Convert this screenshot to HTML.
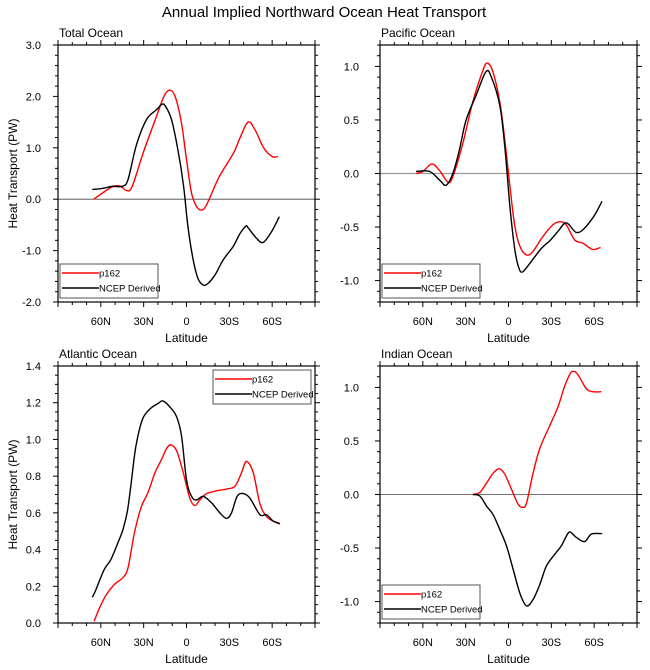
<!DOCTYPE html>
<html><head><meta charset="utf-8"><style>
body{margin:0;background:#fff}
svg{display:block;font-family:"Liberation Sans",Arial,sans-serif}
</style></head><body>
<svg id="c" width="650" height="670" viewBox="0 0 650 670" xmlns="http://www.w3.org/2000/svg">
<text x="324" y="17" font-size="15" text-anchor="middle">Annual Implied Northward Ocean Heat Transport</text>
</svg>
<script>
// latitude: positive = N, negative = S
const totRedLat=[65,54,50,46,42,38,30,21,16,12,8,3.5,0,-3.5,-7,-10.5,-14,-23,-33,-37,-43,-48,-54,-60,-64];
const totRedVal=[0,0.21,0.26,0.25,0.17,0.25,0.93,1.61,1.99,2.12,2.0,1.48,0.77,0.12,-0.14,-0.21,-0.11,0.44,0.9,1.16,1.5,1.35,1.0,0.83,0.83];
const totBlkLat=[66,59,52,45,41,35,28,21,17.5,15,10.5,6,2,-1,-4.7,-8,-11.7,-15,-20,-25.7,-32.7,-37,-41.4,-43,-49,-53.7,-59.6,-65];
const totBlkVal=[0.19,0.21,0.25,0.25,0.38,1.06,1.55,1.74,1.84,1.82,1.55,0.96,0.25,-0.53,-1.18,-1.54,-1.67,-1.64,-1.47,-1.18,-0.92,-0.69,-0.53,-0.55,-0.76,-0.84,-0.63,-0.34];
const pacRedLat=[64.7,60,53.7,48.4,42.5,39,32,25,17.7,14.6,10.7,6,2.6,-1,-4.4,-8,-12.5,-17,-24,-31,-36,-40.5,-46.3,-52,-59,-64.5];
const pacRedVal=[0,0.02,0.09,0.03,-0.08,-0.03,0.28,0.67,0.97,1.03,0.94,0.66,0.31,-0.12,-0.49,-0.68,-0.76,-0.73,-0.59,-0.48,-0.45,-0.48,-0.62,-0.65,-0.71,-0.69];
const pacBlkLat=[64.7,55.3,48.4,43.7,39,34.4,29.7,22.7,15.8,12,6,2.6,-1,-4.4,-7.2,-9.8,-14.9,-23,-28.8,-34.7,-40.5,-47.4,-53.3,-60.2,-65.5];
const pacBlkVal=[0.02,0.02,-0.06,-0.11,0.0,0.22,0.5,0.73,0.95,0.9,0.63,0.25,-0.31,-0.71,-0.88,-0.92,-0.84,-0.7,-0.63,-0.54,-0.46,-0.55,-0.51,-0.39,-0.26];
const atlRedLat=[64.7,61,56.5,50.6,44.8,41,36.5,31.8,27,22,17.5,14,11,7,2.3,-2.3,-5.8,-9.3,-14,-21,-28,-34,-38.6,-42,-46.7,-51.4,-56,-60.7,-65];
const atlRedVal=[0.01,0.08,0.15,0.21,0.245,0.3,0.49,0.63,0.71,0.82,0.89,0.95,0.97,0.94,0.82,0.68,0.64,0.67,0.705,0.72,0.73,0.745,0.82,0.88,0.82,0.65,0.58,0.555,0.545];
const atlBlkLat=[66,63.5,57.7,53,48.4,44.5,41.4,39,35.5,30.8,25,20,16.6,12,7,3.5,0,-3.5,-7,-11.7,-17.5,-23.4,-28,-31.5,-35.5,-39.7,-44.4,-51.4,-56,-60.7,-65.4];
const atlBlkVal=[0.14,0.18,0.29,0.345,0.43,0.51,0.61,0.745,0.96,1.11,1.17,1.195,1.21,1.18,1.125,1.02,0.78,0.69,0.67,0.69,0.655,0.6,0.57,0.6,0.69,0.705,0.68,0.59,0.59,0.555,0.54];
const indRedLat=[25,20,15.3,10.7,6.5,2.6,-2,-6.7,-9.8,-12.6,-17.2,-21.9,-28.8,-34.7,-39.3,-43.3,-45.6,-48.6,-54.4,-59,-65];
const indRedVal=[0,0.02,0.11,0.2,0.24,0.19,0.05,-0.09,-0.12,-0.08,0.2,0.43,0.64,0.82,1.01,1.13,1.15,1.12,0.99,0.96,0.96];
const indBlkLat=[25,20,15.3,10.7,6,1.4,-3.3,-7.9,-12.6,-17.2,-21.9,-26.5,-32.3,-37,-39.3,-42.8,-47.4,-53.3,-58,-65.6];
const indBlkVal=[0,-0.015,-0.11,-0.19,-0.33,-0.48,-0.7,-0.92,-1.04,-0.98,-0.84,-0.67,-0.56,-0.48,-0.42,-0.35,-0.4,-0.44,-0.37,-0.365];
const xTickLats=[60,30,0,-30,-60];
const xTickLabels=["60N","30N","0","30S","60S"];
const seriesNames=["p162","NCEP Derived"];

const NS="http://www.w3.org/2000/svg";
const svg=document.getElementById('c');
function mk(tag,attrs,parent){const e=document.createElementNS(NS,tag);for(const k in attrs)e.setAttribute(k,attrs[k]);(parent||svg).appendChild(e);return e;}
function smooth(pts){let d="M"+pts[0][0].toFixed(1)+","+pts[0][1].toFixed(1);
 for(let i=0;i<pts.length-1;i++){const p0=pts[Math.max(0,i-1)],p1=pts[i],p2=pts[i+1],p3=pts[Math.min(pts.length-1,i+2)];
 const c1=[p1[0]+(p2[0]-p0[0])/6,p1[1]+(p2[1]-p0[1])/6],c2=[p2[0]-(p3[0]-p1[0])/6,p2[1]-(p3[1]-p1[1])/6];
 d+="C"+c1[0].toFixed(1)+","+c1[1].toFixed(1)+" "+c2[0].toFixed(1)+","+c2[1].toFixed(1)+" "+p2[0].toFixed(1)+","+p2[1].toFixed(1);}return d;}

function panel(o){
 const g=mk('g',{});
 
 
 const L=o.x,T=o.y,W=257,H=257;
 const xs=lat=>L+(90-lat)/180*W;
 const ys=v=>T+H-(v-o.ymin)/(o.ymax-o.ymin)*H;
 for(let lat=90;lat>=-90;lat-=10){const X=xs(lat),maj=(lat%30===0)?5:3;
  mk('line',{x1:X,y1:T+H,x2:X,y2:T+H+maj,stroke:'#000','stroke-width':1},g);
  mk('line',{x1:X,y1:T,x2:X,y2:T-maj,stroke:'#000','stroke-width':1},g);}
 const k0=Math.ceil(o.ymin/o.minor-1e-6),k1=Math.floor(o.ymax/o.minor+1e-6);
 for(let k=k0;k<=k1;k++){const v=k*o.minor,Y=ys(v);
  const r=v/o.major;const isMaj=Math.abs(r-Math.round(r))<1e-6;const len=isMaj?5:3;
  mk('line',{x1:L,y1:Y,x2:L-len,y2:Y,stroke:'#000','stroke-width':1},g);
  mk('line',{x1:L+W,y1:Y,x2:L+W+len,y2:Y,stroke:'#000','stroke-width':1},g);
  if(isMaj){const vv=Math.abs(v)<1e-9?0:v;const t=mk('text',{x:L-o.lo,y:Y+4,'font-size':11,'text-anchor':'end'},g);t.textContent=vv.toFixed(o.dp);
   
   }}
 xTickLats.forEach((lat,i)=>{const t=mk('text',{x:xs(lat),y:T+H+23,'font-size':11,'text-anchor':'middle'},g);t.textContent=xTickLabels[i];
  
  });
 if(o.zero){const z=mk('line',{x1:L,y1:ys(0),x2:L+W,y2:ys(0),stroke:o.zc,'stroke-width':o.zw},g);
  
  }
 const cols=['#ff0000','#000000'];
 o.series.forEach((s,i)=>{const p=mk('path',{d:smooth(s[0].map((la,j)=>[xs(la),ys(s[1][j])])),fill:'none',stroke:cols[i],'stroke-width':1.4},g);
  
  });
 const fr=mk('rect',{x:L,y:T,width:W,height:H,fill:'none',stroke:'#000','stroke-width':1.2},g);
 
 
 const tt=mk('text',{x:L+1,y:T-8,'font-size':12},g);tt.textContent=o.title;
 
 
 const xl=mk('text',{x:L+W/2,y:T+H+40,'font-size':12,'text-anchor':'middle'},g);xl.textContent='Latitude';
 
 
 if(o.ylab){const yl=mk('text',{x:0,y:0,'font-size':12,'text-anchor':'middle',transform:`translate(17,${T+H/2}) rotate(-90)`},g);yl.textContent='Heat Transport (PW)';
  
  }
 const lg=mk('g',{},g);
 
 
 mk('rect',{x:o.lx,y:o.ly,width:98,height:34,fill:'#fff',stroke:'#555','stroke-width':1},lg);
 seriesNames.forEach((n,i)=>{const yy=o.ly+9+i*15;
  mk('line',{x1:o.lx+2,y1:yy,x2:o.lx+39,y2:yy,stroke:cols[i],'stroke-width':1.4},lg);
  const t=mk('text',{x:o.lx+39,y:yy+3.5,'font-size':9.5},lg);t.textContent=n;
  
  });
}
panel({id:'total-ocean',title:'Total Ocean',x:58,y:45,ymin:-2,ymax:3,major:1,minor:0.2,dp:1,lo:17,zero:true,zc:'#444',zw:0.8,ylab:true,lx:60,ly:264,
 series:[[totRedLat,totRedVal],[totBlkLat,totBlkVal]]});
panel({id:'pacific-ocean',title:'Pacific Ocean',x:380,y:45,ymin:-1.2,ymax:1.2,major:0.5,minor:0.1,dp:1,lo:21,zero:true,zc:'#999',zw:1.3,ylab:false,lx:382,ly:264,
 series:[[pacRedLat,pacRedVal],[pacBlkLat,pacBlkVal]]});
panel({id:'atlantic-ocean',title:'Atlantic Ocean',x:58,y:366,ymin:0,ymax:1.4,major:0.2,minor:0.05,dp:1,lo:17,zero:false,ylab:true,lx:213,ly:370,
 series:[[atlRedLat,atlRedVal],[atlBlkLat,atlBlkVal]]});
panel({id:'indian-ocean',title:'Indian Ocean',x:380,y:366,ymin:-1.2,ymax:1.2,major:0.5,minor:0.1,dp:1,lo:21,zero:true,zc:'#444',zw:0.8,ylab:false,lx:382,ly:585,
 series:[[indRedLat,indRedVal],[indBlkLat,indBlkVal]]});
</script>
</body></html>
